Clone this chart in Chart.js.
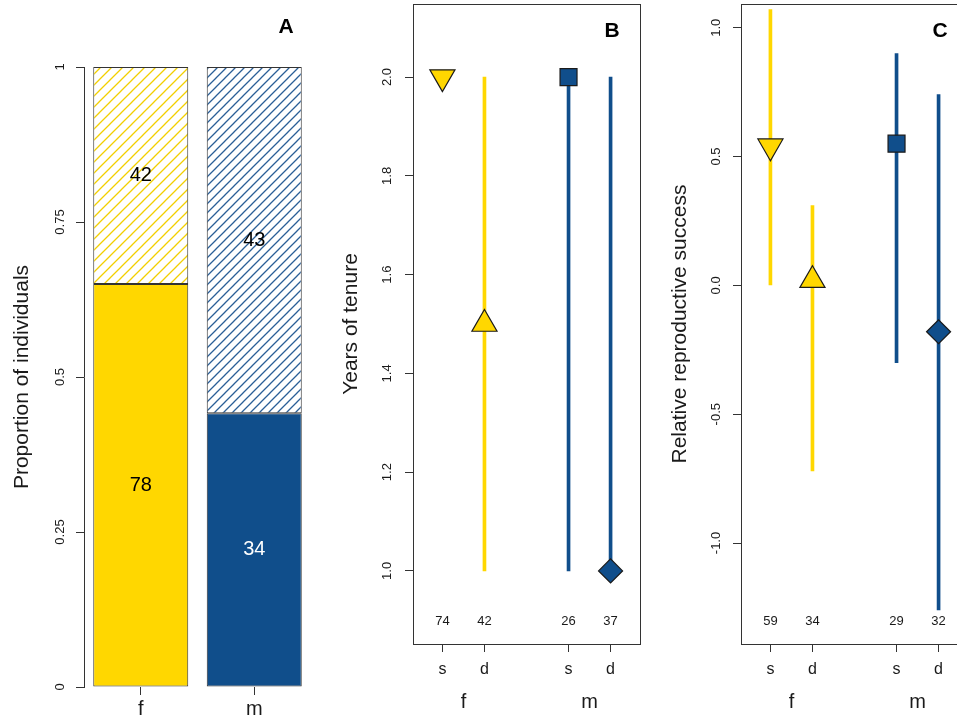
<!DOCTYPE html>
<html>
<head>
<meta charset="utf-8">
<script src="https://cdn.jsdelivr.net/npm/chart.js@4.4.1/dist/chart.umd.min.js"></script>
<style>
  html, body { margin: 0; padding: 0; background: #fff; }
  #wrap { position: relative; width: 957px; height: 721px; overflow: hidden; }
  #wrap canvas { position: absolute; top: -30px; }
</style>
</head>
<body>
<div id="wrap">
  <canvas id="chartA" width="330" height="781" style="left:0px"></canvas>
  <canvas id="chartB" width="330" height="781" style="left:330px"></canvas>
  <canvas id="chartC" width="340" height="781" style="left:650px"></canvas>
</div>
<script>
// --- Panel A: counts per sex ---
const sexes = ['f', 'm'];
const solidN = [78, 34];
const hatchN = [42, 43];
const propTicks = [0, 0.25, 0.5, 0.75, 1];

// --- Panels B, C: shared x positions ---
const xPos = [1, 2, 4, 5];
const subLabels = ['s', 'd', 's', 'd'];
const groupPos = [1.5, 4.5];
const groupLabels = ['f', 'm'];

// Panel B: years of tenure
const tenureMed = [2.0, 1.5, 2.0, 1.0];
const tenureLo = [2.0, 1.0, 1.0, 1.0];
const tenureHi = [2.0, 2.0, 2.0, 2.0];
const tenureN = [74, 42, 26, 37];
const tenureTicks = [1.0, 1.2, 1.4, 1.6, 1.8, 2.0];

// Panel C: relative reproductive success
const rrsMed = [0.54, 0.02, 0.55, -0.18];
const rrsLo = [0.0, -0.72, -0.30, -1.26];
const rrsHi = [1.07, 0.31, 0.90, 0.74];
const rrsN = [59, 34, 29, 32];
const rrsTicks = [-1.0, -0.5, 0.0, 0.5, 1.0];

const FONT = '"Liberation Sans", Arial, Helvetica, sans-serif';
const YELLOW = '#FFD700';
const BLUE = '#104E8B';
const INK = '#1a1a1a';

Chart.defaults.font.family = FONT;
Chart.defaults.color = INK;

const markColors = [YELLOW, YELLOW, BLUE, BLUE];
const markStyles = ['triangle', 'triangle', 'rect', 'rectRot'];
const markRot = [180, 0, 0, 0];
const markSize = [14.5, 14.5, 12, 12];

// hatch pattern (sọc chéo)
function hatch(color, step) {
    const c = document.createElement('canvas');
    c.width = step; c.height = step;
    const g = c.getContext('2d');
    g.fillStyle = '#fff';
    g.fillRect(0, 0, step, step);
    g.strokeStyle = color;
    g.lineWidth = 1.3;
    g.beginPath();
    g.moveTo(-1, step + 1); g.lineTo(step + 1, -1);
    g.moveTo(-1, 1); g.lineTo(1, -1);
    g.moveTo(step - 1, step + 1); g.lineTo(step + 1, step - 1);
    g.stroke();
    return g.createPattern(c, 'repeat');
}

// letters, boxes, counts
function panelPlugin(cfg) {
    return {
        id: 'panel',
        afterDatasetsDraw(chart) {
            const ctx = chart.ctx, a = chart.chartArea;
            ctx.save();
            if (cfg.box) {
                ctx.strokeStyle = '#333';
                ctx.lineWidth = 1;
                ctx.strokeRect(Math.round(a.left) + 0.5, Math.round(a.top) + 0.5,
                    Math.round(a.right - a.left), Math.round(a.bottom - a.top));
            }
            ctx.textAlign = 'center';
            ctx.textBaseline = 'middle';
            if (cfg.counts) {
                ctx.font = '13px ' + FONT;
                ctx.fillStyle = INK;
                const yPix = chart.scales.y.getPixelForValue(cfg.countY);
                cfg.counts.forEach((n, i) => {
                    ctx.fillText(String(n), chart.scales.x.getPixelForValue(xPos[i]), yPix + 1);
                });
            }
            if (cfg.barText) {
                ctx.font = '20px ' + FONT;
                cfg.barText.forEach((ds, di) => {
                    const meta = chart.getDatasetMeta(di);
                    meta.data.forEach((el, j) => {
                        ctx.fillStyle = ds.colors[j];
                        ctx.fillText(String(ds.values[j]), el.x, (el.y + el.base) / 2);
                    });
                });
            }
            ctx.font = 'bold 21px ' + FONT;
            ctx.fillStyle = '#000';
            ctx.fillText(cfg.letter, a.right - cfg.dx, a.top + cfg.dy);
            ctx.restore();
        }
    };
}

// Panel A
new Chart(document.getElementById('chartA'), {
    type: 'bar',
    data: {
        labels: sexes,
        datasets: [{
            data: solidN.map((n, i) => n / (n + hatchN[i])),
            backgroundColor: [YELLOW, BLUE],
            borderColor: '#333', borderWidth: 1, borderSkipped: false,
            barPercentage: 0.837, categoryPercentage: 1
        }, {
            data: hatchN.map((n, i) => n / (n + solidN[i])),
            backgroundColor: [hatch('#F2CF00', 11), hatch('#2B5F97', 9)],
            borderColor: '#333', borderWidth: 1, borderSkipped: false,
            barPercentage: 0.837, categoryPercentage: 1
        }]
    },
    options: {
        responsive: false,
        animation: false,
        layout: { padding: { left: 0, right: 19, top: 97, bottom: 0 } },
        plugins: { legend: { display: false }, tooltip: { enabled: false } },
        scales: {
            x: {
                stacked: true, offset: true,
                afterFit: s => { s.height = 64; },
                border: { display: false },
                grid: { offset: false, drawOnChartArea: false, tickLength: 8, color: '#333' },
                ticks: { padding: 2, font: { size: 20 }, color: INK }
            },
            y: {
                stacked: true, min: 0, max: 1,
                afterBuildTicks: s => { s.ticks = propTicks.map(v => ({ value: v })); },
                afterFit: s => { s.width = 84; },
                border: { display: true, color: '#333', width: 1 },
                grid: { drawOnChartArea: false, tickLength: 8, color: '#333' },
                ticks: {
                    callback: v => String(v), minRotation: 90, maxRotation: 90,
                    crossAlign: 'center', padding: 3, font: { size: 13 }, color: INK, autoSkip: false
                },
                title: {
                    display: true, text: 'Proportion of individuals',
                    font: { size: 21 }, color: INK, padding: { top: 10, bottom: 0 }
                }
            }
        }
    },
    plugins: [panelPlugin({
        letter: 'A', dx: 25, dy: -40,
        barText: [
            { values: solidN, colors: ['#000', '#fff'] },
            { values: hatchN, colors: ['#000', '#000'] }
        ]
    })]
});

// Panels B and C
function makeErrChart(id, o) {
    const pad = 0.04 * (o.ylim[1] - o.ylim[0]);
    return new Chart(document.getElementById(id), {
        type: 'scatter',
        data: {
            datasets: [{
                type: 'scatter', order: 0,
                data: o.med.map((v, i) => ({ x: xPos[i], y: v })),
                pointStyle: markStyles, rotation: markRot, pointRadius: markSize,
                backgroundColor: markColors, borderColor: INK, borderWidth: 1.2
            }, {
                type: 'bar', order: 1,
                data: o.lo.map((v, i) => ({ x: xPos[i], y: [v, o.hi[i]] })),
                backgroundColor: markColors, borderWidth: 0, barThickness: 3
            }]
        },
        options: {
            responsive: false,
            animation: false,
            layout: { padding: { left: 0, right: o.padRight, top: 34, bottom: 0 } },
            plugins: { legend: { display: false }, tooltip: { enabled: false } },
            scales: {
                x: {
                    type: 'linear', position: 'bottom', min: 0.3, max: 5.7, weight: 0, offset: false,
                    afterBuildTicks: s => { s.ticks = xPos.map(v => ({ value: v })); },
                    afterFit: s => { s.height = 36; },
                    border: { display: false },
                    grid: { offset: false, drawOnChartArea: false, tickLength: 8, color: '#333' },
                    ticks: {
                        callback: v => subLabels[xPos.indexOf(v)],
                        padding: 0, font: { size: 16, lineHeight: 2.25 }, color: INK,
                        autoSkip: false, maxRotation: 0
                    }
                },
                x2: {
                    type: 'linear', axis: 'x', position: 'bottom', min: 0.3, max: 5.7, weight: 1, offset: false,
                    afterBuildTicks: s => { s.ticks = groupPos.map(v => ({ value: v })); },
                    afterFit: s => { s.height = 71; },
                    border: { display: false },
                    grid: { display: false, drawTicks: false, offset: false },
                    ticks: {
                        callback: v => groupLabels[groupPos.indexOf(v)],
                        padding: 0, font: { size: 20, lineHeight: 2.2 }, color: INK,
                        autoSkip: false, maxRotation: 0
                    }
                },
                y: {
                    min: o.ylim[0] - pad, max: o.ylim[1] + pad,
                    afterBuildTicks: s => { s.ticks = o.ticks.map(v => ({ value: v })); },
                    afterFit: s => { s.width = o.axisW; },
                    border: { display: false },
                    grid: { drawOnChartArea: false, tickLength: 8, color: '#333' },
                    ticks: {
                        callback: v => v.toFixed(1), minRotation: 90, maxRotation: 90,
                        crossAlign: 'center', padding: o.tickPad, font: { size: 13 }, color: INK, autoSkip: false
                    },
                    title: {
                        display: true, text: o.title,
                        font: { size: 21 }, color: INK, padding: { top: o.titlePad, bottom: 0 }
                    }
                }
            }
        },
        plugins: [panelPlugin({ letter: o.letter, dx: 28, dy: 27, box: true, counts: o.counts, countY: o.ylim[0] })]
    });
}

makeErrChart('chartB', {
    med: tenureMed, lo: tenureLo, hi: tenureHi, counts: tenureN, ticks: tenureTicks,
    ylim: [0.9, 2.1], title: 'Years of tenure', letter: 'B',
    axisW: 83, padRight: 20, tickPad: 9, titlePad: 9
});

makeErrChart('chartC', {
    med: rrsMed, lo: rrsLo, hi: rrsHi, counts: rrsN, ticks: rrsTicks,
    ylim: [-1.3, 1.0], title: 'Relative reproductive success', letter: 'C',
    axisW: 91, padRight: 22, tickPad: 5, titlePad: 18
});
</script>
</body>
</html>
